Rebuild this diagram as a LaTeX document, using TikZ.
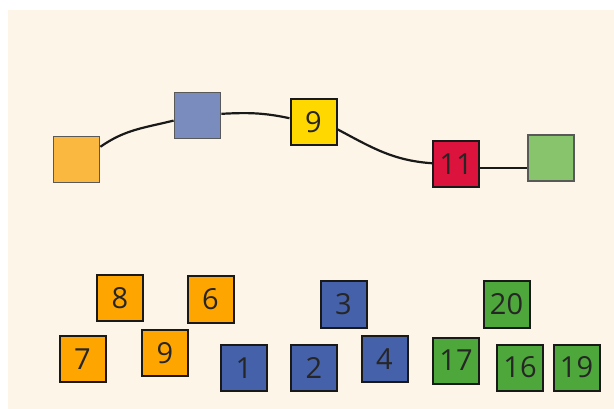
\documentclass[tikz,border=0pt]{standalone}
\usepackage{fontspec}
\setmainfont{Open Sans}
\definecolor{cream}{HTML}{FDF5E7}
\definecolor{ltorange}{HTML}{FBB840}
\definecolor{ltblue}{HTML}{7A8BBE}
\definecolor{gold}{HTML}{FFD800}
\definecolor{crimsonred}{HTML}{DC133C}
\definecolor{ltgreen}{HTML}{88C46C}
\definecolor{orng}{HTML}{FFA500}
\definecolor{dkblue}{HTML}{4561A9}
\definecolor{grn}{HTML}{4EA73A}
\tikzset{
  sq/.style={rectangle, minimum size=46pt, inner sep=0pt, draw=black!90, line width=2pt,
    font=\fontsize{29}{32}\selectfont, text=black!85},
  plain/.style={rectangle, minimum size=46pt, inner sep=0pt, draw=black!65, line width=1.8pt},
  link/.style={line width=2.2pt, black!90}
}
\begin{document}
\begin{tikzpicture}[x=1pt,y=-1pt]
\useasboundingbox (0,0) rectangle (614,409);
\fill[white] (0,0) rectangle (614,409);
\fill[cream] (8,10) rectangle (614,409);
% top chain
\node[plain, fill=ltorange] (oA) at (76.5,159.5) {};
\node[plain, fill=ltblue] (bA) at (197.5,115.5) {};
\node[sq, fill=gold] (y9) at (313.5,122) {9};
\node[sq, fill=crimsonred] (r11) at (456,164.5) {11};
\node[plain, fill=ltgreen] (gA) at (551,158) {};
\draw[link] (oA.28) to[out=35,in=194] (bA.192);
\draw[link] (bA.4) to[out=3,in=168] (y9.171);
\draw[link] (y9.-17) to[out=-28,in=176] (r11.177);
\draw[link] (r11.-8) -- (r11.-8 -| gA.west);
% bottom cards
\node[sq, fill=orng] (o8) at (120,298) {8};
\node[sq, fill=orng] (o6) at (210.5,299.5) {6};
\node[sq, fill=orng] (o7) at (82.5,359) {7};
\node[sq, fill=orng] (o9) at (165,353) {9};
\node[sq, fill=dkblue] (b1) at (244,368) {1};
\node[sq, fill=dkblue] (b2) at (314,368) {2};
\node[sq, fill=dkblue] (b3) at (343.5,304.5) {3};
\node[sq, fill=dkblue] (b4) at (384.5,359) {4};
\node[sq, fill=grn] (g20) at (506.5,304.5) {20};
\node[sq, fill=grn] (g17) at (456,360.5) {17};
\node[sq, fill=grn] (g16) at (520,367.5) {16};
\node[sq, fill=grn] (g19) at (576.5,367.5) {19};
\end{tikzpicture}
\end{document}
